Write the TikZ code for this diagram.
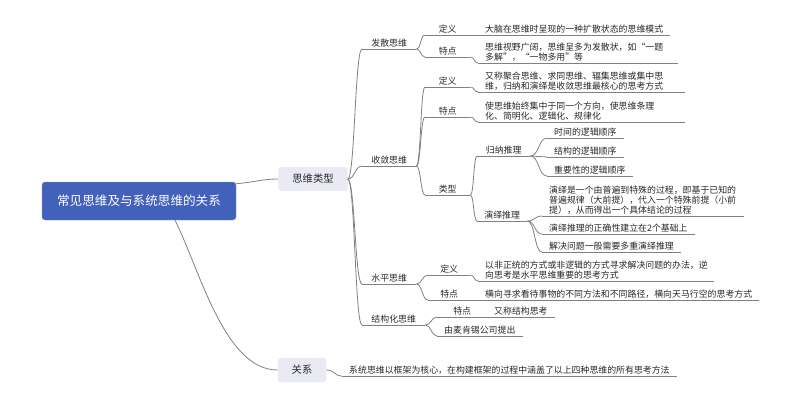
\documentclass[tikz,border=0pt]{standalone}
\usepackage{fontspec}
\setmainfont{Noto Sans CJK SC}
\usetikzlibrary{positioning}
\definecolor{rootblue}{RGB}{65,97,187}
\definecolor{rootrim}{RGB}{140,160,215}
\definecolor{boxgray}{RGB}{233,234,243}
\definecolor{linegray}{RGB}{128,128,128}
\definecolor{ink}{RGB}{40,40,40}

\begin{document}
\begin{tikzpicture}[x=1pt,y=-1pt,
  every node/.style={text=ink,font=\fontsize{8.9}{10}\selectfont},
  topic/.style={anchor=south west,inner xsep=7pt,inner ysep=1.5pt,align=left},
  facet/.style={topic,minimum width=#1},
  hub/.style={fill=boxgray,rounded corners=3pt,inner xsep=14pt,minimum height=24pt,
    font=\fontsize{10.3}{12}\selectfont},
  wire/.style={draw=linegray,line width=0.8pt},
  branch/.style={to path={.. controls +(#1,0) and +(-#1,0) .. (\tikztotarget)}}]
  \useasboundingbox (0,0) rectangle (800,401);

  % root and first level
  \node[fill=rootblue,draw=rootrim,rounded corners=3pt,text=white,
    font=\fontsize{12.6}{14}\selectfont,minimum width=194pt,minimum height=38pt]
    (root) at (139,201) {常见思维及与系统思维的关系};
  \node[hub] (types) at (313,179) {思维类型};
  \node[hub] (rel) at (302,370) {关系};

  % kinds of thinking
  \node[facet=54pt] (div) at (362,49) {发散思维};
  \node[facet=54pt] (conv) at (362,166) {收敛思维};
  \node[facet=54pt] (lat) at (362,284) {水平思维};
  \node[facet=63pt] (struct) at (362,325) {结构化思维};

  % divergent
  \node[facet=45pt] (divdef) at (425,35) {定义};
  \node[topic] (divdeftxt) at (478,35) {大脑在思维时呈现的一种扩散状态的思维模式};
  \node[facet=45pt] (divfeat) at (425,57) {特点};
  \node[topic,text width=186pt] (divfeattxt) at (478,63)
    {思维视野广阔，思维呈多为发散状，如“一题\\多解”，“一物多用”等};

  % convergent
  \node[facet=45pt] (convdef) at (425,87) {定义};
  \node[topic,text width=193pt] (convdeftxt) at (478,92)
    {又称聚合思维、求同思维、辐集思维或集中思\\维，归纳和演绎是收敛思维最核心的思考方式};
  \node[facet=45pt] (convfeat) at (425,117) {特点};
  \node[topic,text width=193pt] (convfeattxt) at (478,122)
    {使思维始终集中于同一个方向，使思维条理\\化、简明化、逻辑化、规律化};
  \node[facet=45pt] (convtype) at (425,195) {类型};

  \node[facet=53pt] (induct) at (477,156) {归纳推理};
  \node[facet=73pt] (ind1) at (547,138) {时间的逻辑顺序};
  \node[facet=73pt] (ind2) at (547,157) {结构的逻辑顺序};
  \node[facet=73pt] (ind3) at (547,176) {重要性的逻辑顺序};

  \node[facet=50pt] (deduct) at (477,221) {演绎推理};
  \node[topic,text width=188pt] (ded1) at (542,216)
    {演绎是一个由普遍到特殊的过程，即基于已知的\\普遍规律（大前提），代入一个特殊前提（小前\\提），从而得出一个具体结论的过程};
  \node[topic] (ded2) at (542,234) {演绎推理的正确性建立在2个基础上};
  \node[topic] (ded3) at (542,252) {解决问题一般需要多重演绎推理};

  % lateral
  \node[facet=42pt] (latdef) at (428,275) {定义};
  \node[topic,text width=222pt] (latdeftxt) at (478,281)
    {以非正统的方式或非逻辑的方式寻求解决问题的办法，逆\\向思考是水平思维重要的思考方式};
  \node[facet=42pt] (latfeat) at (428,300) {特点};
  \node[topic] (latfeattxt) at (478,300) {横向寻求看待事物的不同方法和不同路径，横向天马行空的思考方式};

  % structured
  \node[facet=50pt] (structfeat) at (437,317) {特点};
  \node[topic] (structfeattxt) at (487,317) {又称结构思考};
  \node[topic] (structorig) at (437,336) {由麦肯锡公司提出};

  % relation
  \node[topic] (reltxt) at (342,376) {系统思维以框架为核心，在构建框架的过程中涵盖了以上四种思维的所有思考方法};

  % underlines
  \foreach \n in {div,conv,lat,struct,divdef,divdeftxt,divfeat,divfeattxt,
    convdef,convdeftxt,convfeat,convfeattxt,convtype,induct,ind1,ind2,ind3,
    deduct,ded1,ded2,ded3,latdef,latdeftxt,latfeat,latfeattxt,
    structfeat,structfeattxt,structorig,reltxt}
    \draw[wire] (\n.south west) -- (\n.south east);

  % connectors
  \draw[wire] ([yshift=-2pt]root.north east) .. controls +(20,-2) and +(-15,0) .. (types.west);
  \draw[wire] ([xshift=36pt]root.south) .. controls +(25,50) and +(-53,0) .. (rel.west);
  \foreach \n in {div,conv,lat,struct}
    \draw[wire] (types.east) to[branch=7] (\n.south west);
  \draw[wire] (rel.east) to[branch=8] (reltxt.south west);
  \foreach \a/\b/\d in {div/divdef/4.5,div/divfeat/4.5,
    conv/convdef/4.5,conv/convfeat/4.5,conv/convtype/4.5,
    lat/latdef/6,lat/latfeat/6,struct/structfeat/6,struct/structorig/6,
    divdef/divdeftxt/4,divfeat/divfeattxt/4,convdef/convdeftxt/4,convfeat/convfeattxt/4,
    convtype/induct/3.5,convtype/deduct/3.5,
    induct/ind1/8.5,induct/ind2/8.5,induct/ind3/8.5,
    deduct/ded1/7.5,deduct/ded2/7.5,deduct/ded3/7.5,
    latdef/latdeftxt/4,latfeat/latfeattxt/4}
    \draw[wire] (\a.south east) to[branch=\d] (\b.south west);
\end{tikzpicture}
\end{document}
